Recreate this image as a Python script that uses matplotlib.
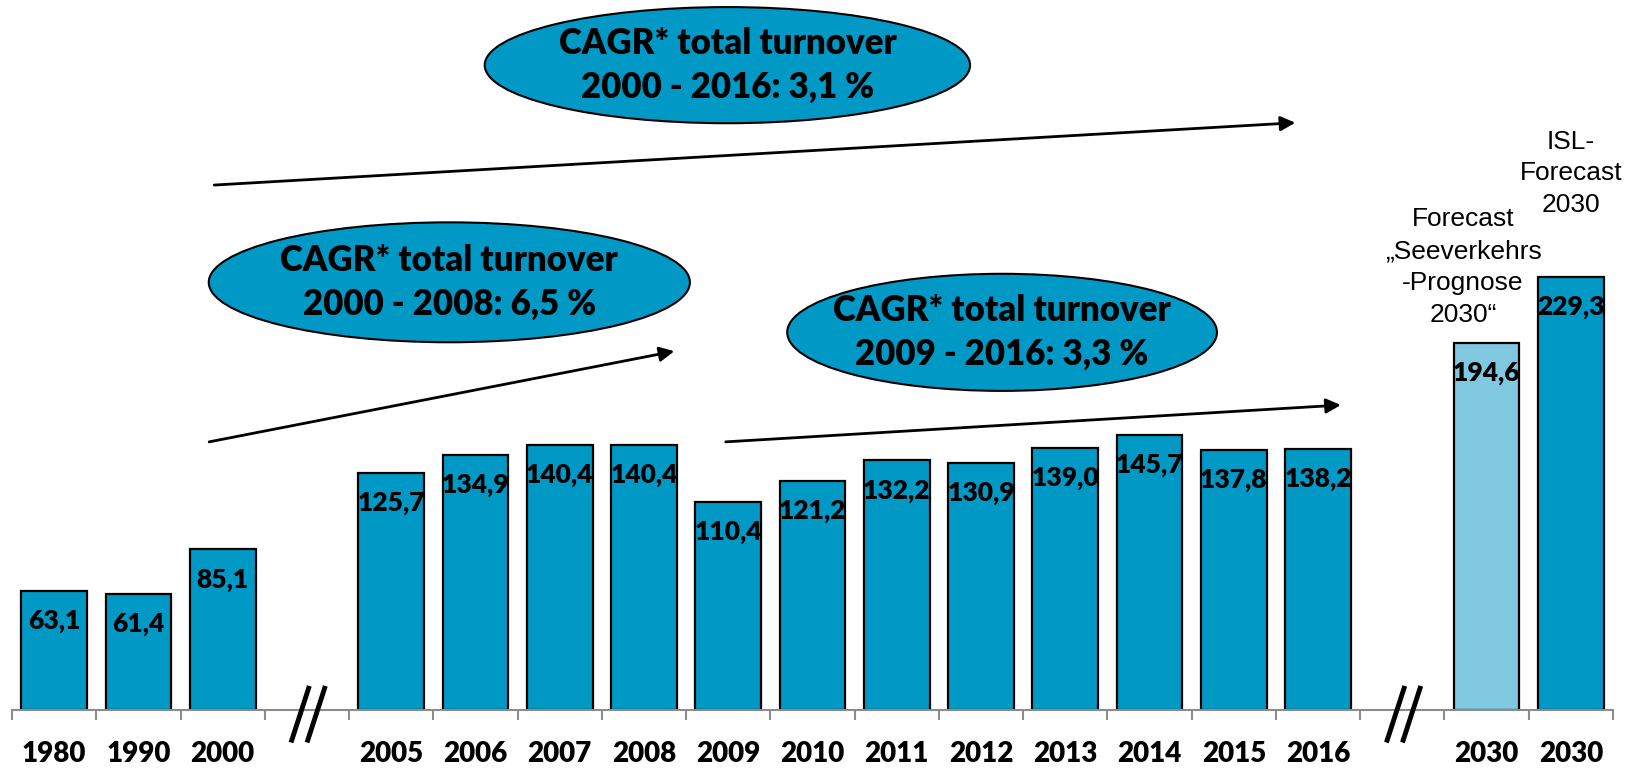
import matplotlib
matplotlib.use("Agg")
import matplotlib.pyplot as plt
import numpy as np
from matplotlib.patches import Ellipse

# Chart data (None marks the axis breaks)
labels = ["1980", "1990", "2000", "", "2005", "2006", "2007", "2008", "2009",
          "2010", "2011", "2012", "2013", "2014", "2015", "2016", "", "2030", "2030"]
values = [63.1, 61.4, 85.1, None, 125.7, 134.9, 140.4, 140.4, 110.4,
          121.2, 132.2, 130.9, 139.0, 145.7, 137.8, 138.2, None, 194.6, 229.3]
light_idx = [17]  # "Seeverkehrsprognose" forecast bar

cagr_texts = ["CAGR* total turnover\n2000 - 2016: 3,1 %",
              "CAGR* total turnover\n2000 - 2008: 6,5 %",
              "CAGR* total turnover\n2009 - 2016: 3,3 %"]
forecast_texts = ["Forecast\n\u201eSeeverkehrs\n-Prognose\n2030\u201c",
                  "ISL-\nForecast\n2030"]

BLUE = "#0099C6"
LIGHT = "#7FC8E0"
BOLD_FONT = "Lato"

fig = plt.figure(figsize=(16.38, 7.68), dpi=100)
ax = fig.add_axes([12 / 1638, 58 / 768, 1601 / 1638, 710 / 768])
ax.set_xlim(-0.5, len(labels) - 0.5)
ax.set_ylim(0, 376)

# bars
for i, v in enumerate(values):
    if v is None:
        continue
    col = LIGHT if i in light_idx else BLUE
    ax.bar(i, v, width=0.78, color=col, edgecolor="black", linewidth=1.6, zorder=2)
    ax.text(i, v - 16, f"{v:.1f}".replace(".", ","), ha="center", va="center",
            fontsize=19, fontweight="heavy", family=BOLD_FONT, zorder=3)

# axes styling
for s in ["top", "right", "left"]:
    ax.spines[s].set_visible(False)
ax.spines["bottom"].set_color("#8c8c8c")
ax.spines["bottom"].set_linewidth(1.5)
ax.set_yticks([])
ax.set_xticks(np.arange(len(labels)))
ax.set_xticklabels(labels, fontsize=20, fontweight="heavy", family=BOLD_FONT)
ax.tick_params(axis="x", which="major", length=0, pad=22)
ax.set_xticks(np.arange(-0.5, len(labels)), minor=True)
ax.tick_params(axis="x", which="minor", length=7.5, width=1.5, color="#8c8c8c")

# axis break marks
for i, v in enumerate(values):
    if v is None:
        for dx in (-0.08, 0.11):
            ax.plot([i + dx - 0.1, i + dx + 0.1], [-16, 11.5], color="black",
                    lw=3.5, clip_on=False, zorder=4)

# CAGR ellipses: (center x, center y, width, height)
ellipses = [(7.99, 341.5, 5.76, 61.5), (4.69, 226.5, 5.71, 63.5), (11.25, 200, 5.10, 62)]
for (cx, cy, w, h), t in zip(ellipses, cagr_texts):
    ax.add_patch(Ellipse((cx, cy), w, h, facecolor=BLUE, edgecolor="black",
                         linewidth=1.5, zorder=3))
    ax.text(cx, cy, t, ha="center", va="center", fontsize=25, fontweight="heavy",
            family=BOLD_FONT, linespacing=1.4, zorder=4)

# trend arrows: (start, end)
arrows = [((1.9, 278), (14.73, 311)), ((1.84, 142), (7.36, 190)), ((7.97, 142), (15.27, 161.5))]
for start, end in arrows:
    ax.annotate("", xy=end, xytext=start,
                arrowprops=dict(arrowstyle="-|>", color="black", lw=2,
                                mutation_scale=22, shrinkA=0, shrinkB=0), zorder=3)

# forecast captions
ax.text(17 - 0.28, values[17] + 8, forecast_texts[0], ha="center", va="bottom",
        fontsize=19, family="Liberation Sans", linespacing=1.43)
ax.text(18, values[18] + 32, forecast_texts[1], ha="center", va="bottom",
        fontsize=19, family="Liberation Sans", linespacing=1.38)

fig.savefig("out.png", dpi=100)
